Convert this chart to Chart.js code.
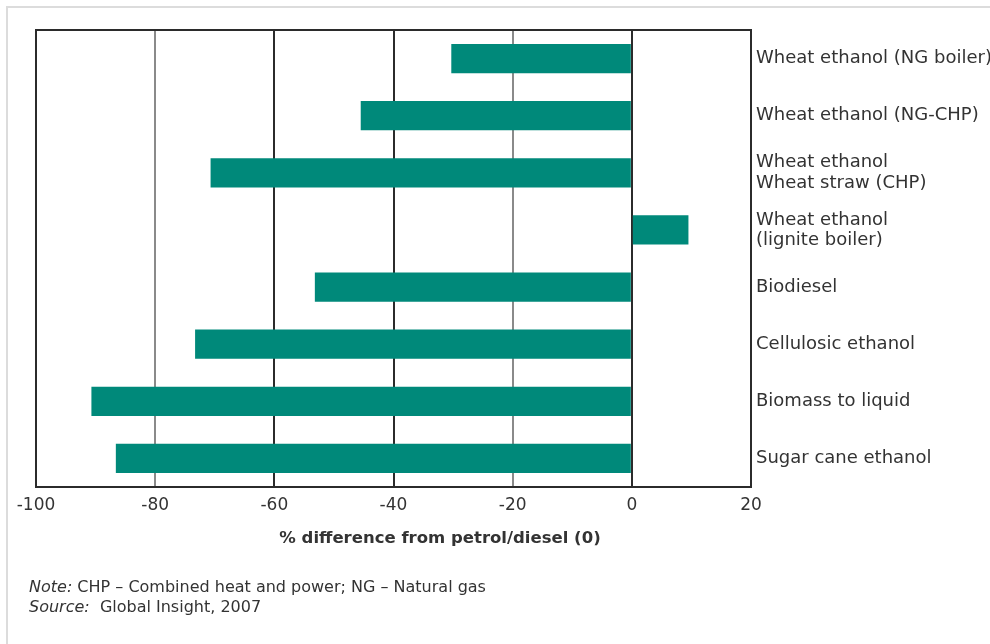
<!DOCTYPE html>
<html>
<head>
<meta charset="utf-8">
<script src="https://cdn.jsdelivr.net/npm/chart.js@4"></script>
<style>
  html, body { margin: 0; padding: 0; background: #fff; }
  #wrap { position: relative; width: 990px; height: 644px; overflow: hidden; }
  #frame { position: absolute; left: 6px; top: 6px; width: 1100px; height: 800px; border-left: 2px solid #dcdcdc; border-top: 2px solid #dcdcdc; }
  canvas { position: absolute; left: 0; top: 0; }
  .note { position: absolute; left: 29px; font: 16px/20px "DejaVu Sans", sans-serif; color: #333; white-space: nowrap; }
</style>
</head>
<body>
<div id="wrap">
  <div id="frame"></div>
  <canvas id="chart" width="990" height="644"></canvas>
  <div class="note" style="top:577px"><i>Note:</i> CHP – Combined heat and power; NG – Natural gas</div>
  <div class="note" style="top:597px"><i>Source:</i>&nbsp; Global Insight, 2007</div>
</div>
<script>
(function () {
  "use strict";

  var categories = [
    "Wheat ethanol (NG boiler)",
    "Wheat ethanol (NG-CHP)",
    ["Wheat ethanol", "Wheat straw (CHP)"],
    ["Wheat ethanol", "(lignite boiler)"],
    "Biodiesel",
    "Cellulosic ethanol",
    "Biomass to liquid",
    "Sugar cane ethanol"
  ];
  var values = [-30.3, -45.5, -70.7, 9.5, -53.2, -73.3, -90.7, -86.6];
  var xTicks = [-100, -80, -60, -40, -20, 0, 20];
  var axisTitle = "% difference from petrol/diesel (0)";

  var textColor = "#333";
  var font = "'DejaVu Sans', sans-serif";

  var frameAndTitle = {
    id: "frameAndTitle",
    afterDraw: function (chart) {
      var ctx = chart.ctx;
      var a = chart.chartArea;
      ctx.save();
      ctx.strokeStyle = "#2b2b2b";
      ctx.lineWidth = 2;
      ctx.strokeRect(a.left, a.top, a.right - a.left, a.bottom - a.top);
      ctx.fillStyle = textColor;
      ctx.font = "bold 16.5px " + font;
      ctx.textAlign = "center";
      ctx.textBaseline = "middle";
      ctx.fillText(axisTitle, 440, 539);
      ctx.restore();
    }
  };

  new Chart(document.getElementById("chart"), {
    type: "bar",
    data: {
      labels: categories,
      datasets: [{
        data: values,
        backgroundColor: "#00897a",
        borderWidth: 0,
        barPercentage: 0.51,
        categoryPercentage: 1
      }]
    },
    options: {
      indexAxis: "y",
      responsive: false,
      animation: false,
      layout: { padding: { left: 36, top: 30, right: 0, bottom: 127 } },
      plugins: { legend: { display: false }, tooltip: { enabled: false } },
      scales: {
        x: {
          min: -100,
          max: 20,
          afterBuildTicks: function (scale) {
            scale.ticks = xTicks.map(function (v) { return { value: v }; });
          },
          afterFit: function (scale) { scale.height = 30; },
          grid: {
            drawTicks: false,
            lineWidth: 2,
            color: function (c) {
              var v = c.tick && c.tick.value;
              return (v === -80 || v === -20) ? "#8a8a8a" : "#2b2b2b";
            }
          },
          border: { display: false },
          ticks: { color: textColor, padding: 8, font: { family: font, size: 17 } }
        },
        y: {
          position: "right",
          afterFit: function (scale) { scale.width = 239; },
          grid: { display: false, drawTicks: false },
          border: { display: false },
          ticks: { color: textColor, padding: 5, font: { family: font, size: 18, lineHeight: 1.12 } }
        }
      }
    },
    plugins: [frameAndTitle]
  });
})();
</script>
</body>
</html>
